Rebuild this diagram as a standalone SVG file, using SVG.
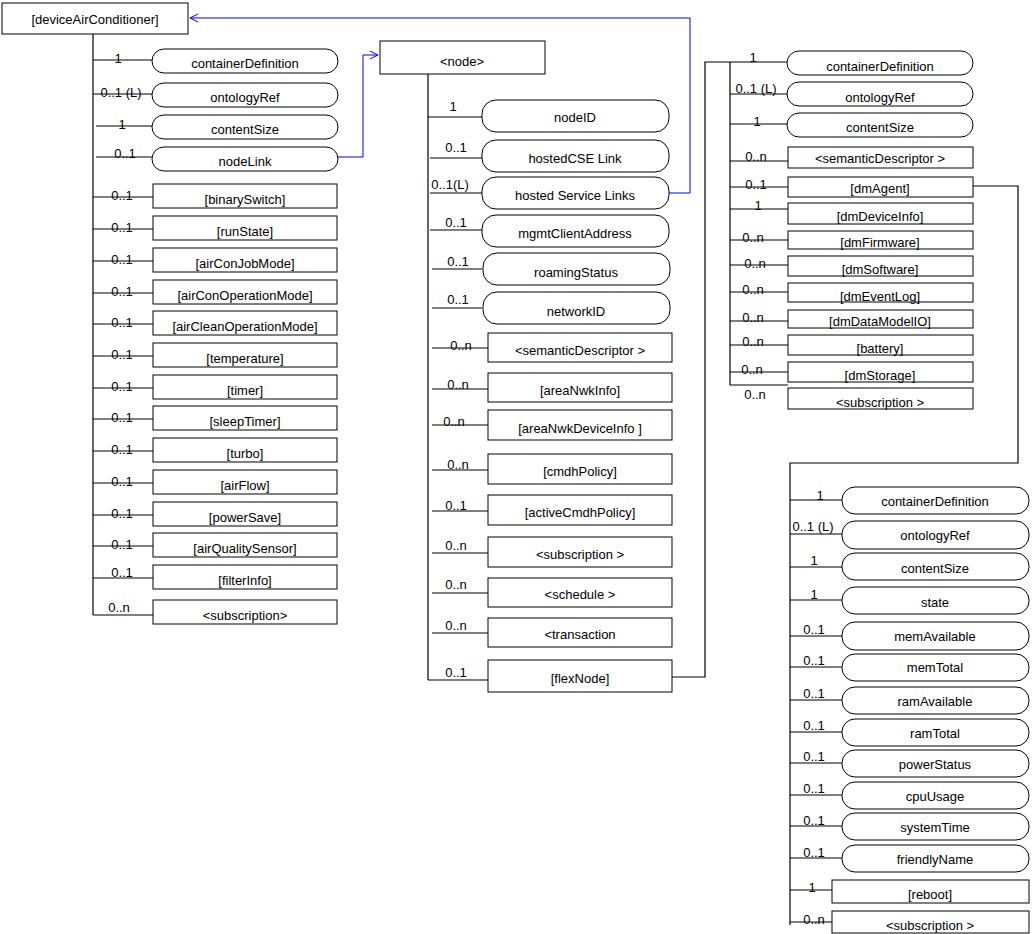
<svg xmlns="http://www.w3.org/2000/svg" width="1033" height="934" viewBox="0 0 1033 934">
<defs>
<style>
text{font-family:"Liberation Sans",Arial,sans-serif;font-size:13px;fill:#000;text-anchor:middle}
.n rect{fill:#fff;stroke:#000;stroke-width:1}
.c path{fill:none;stroke:#000;stroke-width:1.2}
.c path.b{stroke:#0000ee;stroke-width:1}
</style>
<marker id="a" markerWidth="10" markerHeight="10" refX="9" refY="5" orient="auto" markerUnits="userSpaceOnUse"><path d="M1,1 L9,5 L1,9" fill="none" stroke="#0000ee"/></marker>
</defs>
<rect width="1033" height="934" fill="#fff"/>
<g class="c">
<path d="M93,34V615"/>
<path d="M93,60H152M93,94H152M96,126H152M96,157H152M93,197H153M93,229H153M93,261H153M93,293H153M93,324H153M93,356H153M93,388H153M93,419H153M93,451H153M93,483H153M93,515H153M93,546H153M93,578H153M93,615H153"/>
<path d="M428,74V680"/>
<path d="M428,117H482M430,158H482M430,193H482M430,230H482M432,269H482M432,308H482M432,348H488M432,389H488M432,425H488M432,470H488M432,511H488M432,553H488M432,593H488M432,633H488M428,680H488"/>
<path d="M730,62V385M730,62H787M730,94H787M730,124H787M730,161H788M730,187H788M730,209H788M730,240H788M730,265H788M730,292H788M730,321H788M730,345H788M730,372H788M730,385H788"/>
<path d="M672,677H705V62H730"/>
<path d="M972,186H1018V463H790V925"/>
<path d="M790,500H842M790,534H842M790,567H842M790,600H842M790,636H842M790,667H842M790,700H842M790,732H842M790,763H842M790,795H842M790,826H842M790,858H842M790,890H832M790,922H832"/>
<path class="b" d="M338,157H363V55H378" marker-end="url(#a)"/>
<path class="b" d="M669,193H690V18H190" marker-end="url(#a)"/>
</g>
<g class="n" id="deviceAirConditioner"><rect x="2" y="3" width="186" height="31"/><text x="95" y="24">[deviceAirConditioner]</text></g>
<g class="n" id="l-containerDefinition"><rect x="152" y="49" width="186" height="24" rx="12"/><text x="245" y="68">containerDefinition</text></g>
<g class="n" id="l-ontologyRef"><rect x="152" y="83" width="186" height="24" rx="12"/><text x="245" y="102">ontologyRef</text></g>
<g class="n" id="l-contentSize"><rect x="152" y="115" width="186" height="24" rx="12"/><text x="245" y="134">contentSize</text></g>
<g class="n" id="l-nodeLink"><rect x="152" y="147" width="186" height="24" rx="12"/><text x="245" y="166">nodeLink</text></g>
<g class="n" id="l-binarySwitch"><rect x="153" y="184" width="184" height="24"/><text x="245" y="204">[binarySwitch]</text></g>
<g class="n" id="l-runState"><rect x="153" y="216" width="184" height="24"/><text x="245" y="236">[runState]</text></g>
<g class="n" id="l-airConJobMode"><rect x="153" y="248" width="184" height="24"/><text x="245" y="268">[airConJobMode]</text></g>
<g class="n" id="l-airConOperationMode"><rect x="153" y="280" width="184" height="24"/><text x="245" y="300">[airConOperationMode]</text></g>
<g class="n" id="l-airCleanOperationMode"><rect x="153" y="311" width="184" height="24"/><text x="245" y="331">[airCleanOperationMode]</text></g>
<g class="n" id="l-temperature"><rect x="153" y="343" width="184" height="24"/><text x="245" y="363">[temperature]</text></g>
<g class="n" id="l-timer"><rect x="153" y="375" width="184" height="24"/><text x="245" y="395">[timer]</text></g>
<g class="n" id="l-sleepTimer"><rect x="153" y="406" width="184" height="24"/><text x="245" y="426">[sleepTimer]</text></g>
<g class="n" id="l-turbo"><rect x="153" y="438" width="184" height="24"/><text x="245" y="458">[turbo]</text></g>
<g class="n" id="l-airFlow"><rect x="153" y="470" width="184" height="24"/><text x="245" y="490">[airFlow]</text></g>
<g class="n" id="l-powerSave"><rect x="153" y="502" width="184" height="24"/><text x="245" y="522">[powerSave]</text></g>
<g class="n" id="l-airQualitySensor"><rect x="153" y="533" width="184" height="24"/><text x="245" y="553">[airQualitySensor]</text></g>
<g class="n" id="l-filterInfo"><rect x="153" y="565" width="184" height="24"/><text x="245" y="585">[filterInfo]</text></g>
<g class="n" id="l-subscription"><rect x="153" y="600" width="184" height="24"/><text x="245" y="620">&lt;subscription&gt;</text></g>
<g id="left-mult">
<text x="118" y="63">1</text><text x="121" y="97">0..1 (L)</text><text x="122" y="129">1</text><text x="125" y="158">0..1</text>
<text x="122" y="200">0..1</text><text x="122" y="232">0..1</text><text x="122" y="264">0..1</text><text x="122" y="296">0..1</text><text x="122" y="327">0..1</text><text x="122" y="359">0..1</text><text x="122" y="391">0..1</text><text x="122" y="422">0..1</text><text x="122" y="454">0..1</text><text x="122" y="486">0..1</text><text x="122" y="518">0..1</text><text x="122" y="549">0..1</text><text x="122" y="577">0..1</text><text x="119" y="612">0..n</text>
</g>
<g class="n" id="node"><rect x="380" y="41" width="165" height="33"/><text x="462" y="66">&lt;node&gt;</text></g>
<g class="n" id="m-nodeID"><rect x="482" y="100" width="187" height="32" rx="14"/><text x="575" y="122">nodeID</text></g>
<g class="n" id="m-hostedCSELink"><rect x="482" y="140" width="187" height="32" rx="14"/><text x="575" y="163">hostedCSE Link</text></g>
<g class="n" id="m-hostedServiceLinks"><rect x="482" y="177" width="187" height="32" rx="14"/><text x="575" y="200">hosted Service Links</text></g>
<g class="n" id="m-mgmtClientAddress"><rect x="482" y="215" width="187" height="32" rx="14"/><text x="575" y="238">mgmtClientAddress</text></g>
<g class="n" id="m-roamingStatus"><rect x="483" y="253" width="187" height="32" rx="14"/><text x="576" y="277">roamingStatus</text></g>
<g class="n" id="m-networkID"><rect x="483" y="292" width="187" height="32" rx="14"/><text x="576" y="316">networkID</text></g>
<g class="n" id="m-semanticDescriptor"><rect x="488" y="333" width="184" height="29"/><text x="580" y="355">&lt;semanticDescriptor &gt;</text></g>
<g class="n" id="m-areaNwkInfo"><rect x="488" y="373" width="184" height="29"/><text x="580" y="395">[areaNwkInfo]</text></g>
<g class="n" id="m-areaNwkDeviceInfo"><rect x="488" y="410" width="184" height="30"/><text x="580" y="433">[areaNwkDeviceInfo ]</text></g>
<g class="n" id="m-cmdhPolicy"><rect x="488" y="454" width="184" height="30"/><text x="580" y="476">[cmdhPolicy]</text></g>
<g class="n" id="m-activeCmdhPolicy"><rect x="488" y="495" width="184" height="30"/><text x="580" y="517">[activeCmdhPolicy]</text></g>
<g class="n" id="m-subscription"><rect x="488" y="537" width="184" height="30"/><text x="580" y="559">&lt;subscription &gt;</text></g>
<g class="n" id="m-schedule"><rect x="488" y="578" width="184" height="29"/><text x="580" y="599">&lt;schedule &gt;</text></g>
<g class="n" id="m-transaction"><rect x="488" y="618" width="184" height="29"/><text x="580" y="639">&lt;transaction</text></g>
<g class="n" id="m-flexNode"><rect x="488" y="660" width="184" height="32"/><text x="580" y="683">[flexNode]</text></g>
<g id="mid-mult">
<text x="453" y="111">1</text><text x="456" y="152">0..1</text><text x="450" y="189">0..1(L)</text><text x="456" y="227">0..1</text><text x="458" y="266">0..1</text><text x="458" y="304">0..1</text><text x="461" y="350">0..n</text><text x="458" y="389">0..n</text><text x="454" y="426">0..n</text><text x="458" y="469">0..n</text><text x="456" y="510">0..1</text><text x="456" y="550">0..n</text><text x="456" y="589">0..n</text><text x="456" y="630">0..n</text><text x="456" y="677">0..1</text>
</g>
<g class="n" id="r-containerDefinition"><rect x="787" y="51" width="186" height="24" rx="12"/><text x="880" y="71">containerDefinition</text></g>
<g class="n" id="r-ontologyRef"><rect x="787" y="82" width="186" height="24" rx="12"/><text x="880" y="102">ontologyRef</text></g>
<g class="n" id="r-contentSize"><rect x="787" y="113" width="186" height="24" rx="12"/><text x="880" y="132">contentSize</text></g>
<g class="n" id="r-semanticDescriptor"><rect x="788" y="147" width="185" height="21"/><text x="880" y="163">&lt;semanticDescriptor &gt;</text></g>
<g class="n" id="r-dmAgent"><rect x="788" y="177" width="185" height="20"/><text x="880" y="193">[dmAgent]</text></g>
<g class="n" id="r-dmDeviceInfo"><rect x="788" y="203" width="185" height="21"/><text x="880" y="221">[dmDeviceInfo]</text></g>
<g class="n" id="r-dmFirmware"><rect x="788" y="231" width="185" height="18"/><text x="880" y="247">[dmFirmware]</text></g>
<g class="n" id="r-dmSoftware"><rect x="788" y="256" width="185" height="20"/><text x="880" y="274">[dmSoftware]</text></g>
<g class="n" id="r-dmEventLog"><rect x="788" y="283" width="185" height="19"/><text x="880" y="301">[dmEventLog]</text></g>
<g class="n" id="r-dmDataModelIO"><rect x="788" y="310" width="185" height="18"/><text x="880" y="326">[dmDataModelIO]</text></g>
<g class="n" id="r-battery"><rect x="788" y="335" width="185" height="20"/><text x="880" y="353">[battery]</text></g>
<g class="n" id="r-dmStorage"><rect x="788" y="362" width="185" height="20"/><text x="880" y="380">[dmStorage]</text></g>
<g class="n" id="r-subscription"><rect x="788" y="388" width="185" height="21"/><text x="880" y="407">&lt;subscription &gt;</text></g>
<g id="right-mult">
<text x="753" y="62">1</text><text x="756" y="93">0..1 (L)</text><text x="757" y="126">1</text><text x="756" y="161">0..n</text><text x="756" y="189">0..1</text><text x="758" y="210">1</text><text x="753" y="242">0..n</text><text x="755" y="268">0..n</text><text x="753" y="294">0..n</text><text x="753" y="322">0..n</text><text x="753" y="346">0..n</text><text x="752" y="374">0..n</text><text x="755" y="399">0..n</text>
</g>
<g class="n" id="b-containerDefinition"><rect x="842" y="487" width="187" height="27" rx="13"/><text x="935" y="506">containerDefinition</text></g>
<g class="n" id="b-ontologyRef"><rect x="842" y="521" width="187" height="28" rx="13"/><text x="935" y="540">ontologyRef</text></g>
<g class="n" id="b-contentSize"><rect x="842" y="553" width="187" height="27" rx="13"/><text x="935" y="573">contentSize</text></g>
<g class="n" id="b-state"><rect x="842" y="587" width="187" height="27" rx="13"/><text x="935" y="607">state</text></g>
<g class="n" id="b-memAvailable"><rect x="842" y="622" width="187" height="28" rx="13"/><text x="935" y="641">memAvailable</text></g>
<g class="n" id="b-memTotal"><rect x="842" y="654" width="187" height="27" rx="13"/><text x="935" y="672">memTotal</text></g>
<g class="n" id="b-ramAvailable"><rect x="842" y="687" width="187" height="27" rx="13"/><text x="935" y="706">ramAvailable</text></g>
<g class="n" id="b-ramTotal"><rect x="842" y="719" width="187" height="27" rx="13"/><text x="935" y="738">ramTotal</text></g>
<g class="n" id="b-powerStatus"><rect x="842" y="750" width="187" height="27" rx="13"/><text x="935" y="769">powerStatus</text></g>
<g class="n" id="b-cpuUsage"><rect x="842" y="782" width="187" height="27" rx="13"/><text x="935" y="801">cpuUsage</text></g>
<g class="n" id="b-systemTime"><rect x="842" y="813" width="187" height="27" rx="13"/><text x="935" y="832">systemTime</text></g>
<g class="n" id="b-friendlyName"><rect x="842" y="845" width="187" height="27" rx="13"/><text x="935" y="864">friendlyName</text></g>
<g class="n" id="b-reboot"><rect x="832" y="880" width="197" height="23"/><text x="930" y="899">[reboot]</text></g>
<g class="n" id="b-subscription"><rect x="832" y="911" width="197" height="22"/><text x="930" y="930">&lt;subscription &gt;</text></g>
<g id="bottom-mult">
<text x="820" y="500">1</text><text x="813" y="531">0..1 (L)</text><text x="814" y="565">1</text><text x="814" y="599">1</text><text x="814" y="634">0..1</text><text x="814" y="665">0..1</text><text x="814" y="698">0..1</text><text x="814" y="730">0..1</text><text x="814" y="761">0..1</text><text x="814" y="793">0..1</text><text x="814" y="825">0..1</text><text x="814" y="857">0..1</text><text x="812" y="892">1</text><text x="814" y="924">0..n</text>
</g>
</svg>
